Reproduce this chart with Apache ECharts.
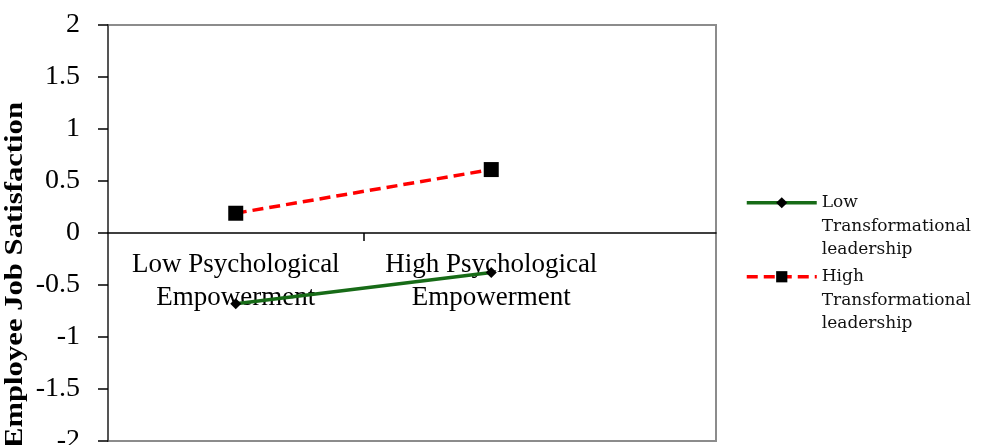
<!DOCTYPE html>
<html>
<head>
<meta charset="utf-8">
<script src="https://cdn.jsdelivr.net/npm/echarts@6/dist/echarts.min.js"></script>
<style>
  html, body { margin: 0; padding: 0; background: #fff; }
  #chart { width: 992px; height: 445px; }
</style>
</head>
<body>
<div id="chart"></div>
<script>
  // 数据
  var categories = ['Low Psychological\nEmpowerment', 'High Psychological\nEmpowerment']
  var lowTL = [-0.68, -0.38]
  var highTL = [0.19, 0.61]
  var seriesNames = ['Low\nTransformational\nleadership', 'High\nTransformational\nleadership']
  var yTitle = 'Employee Job Satisfaction'

  var serif = "'Liberation Serif', 'Times New Roman', serif"

  var myChart = echarts.init(document.getElementById('chart'))
  myChart.setOption({
    animation: false,
    textStyle: { fontFamily: serif, color: '#000' },
    // 0: 外框  1: 数据区  2: 类目标签（零线以上）
    grid: [
      { left: 108, top: 25, width: 608, height: 416, show: true, borderColor: '#8c8c8c', borderWidth: 2, containLabel: false, outerBoundsMode: 'none' },
      { left: 108, top: 25, width: 511, height: 416, containLabel: false, outerBoundsMode: 'none' },
      { left: 108, top: 25, width: 511, height: 207.5, containLabel: false, outerBoundsMode: 'none' }
    ],
    legend: {
      orient: 'vertical',
      left: 740,
      top: 139,
      itemWidth: 70,
      itemHeight: 14,
      itemGap: -43.5,
      data: seriesNames,
      lineStyle: { width: 3.5 },
      // 图例图标对齐第一行文字
      formatter: function (name) { return '\n\n' + name },
      textStyle: {
        fontFamily: "'DejaVu Serif', serif",
        fontSize: 17,
        lineHeight: 23.5,
        color: '#111'
      }
    },
    xAxis: [
      {
        type: 'value', gridIndex: 0, min: 0, max: 1,
        axisLine: { onZero: true, lineStyle: { color: '#000', width: 1.5 } },
        axisTick: { show: false }, axisLabel: { show: false }, splitLine: { show: false }
      },
      {
        type: 'category', gridIndex: 1, data: categories, boundaryGap: true, position: 'top', show: false,
        axisLine: { onZero: false }
      },
      {
        type: 'category', gridIndex: 2, data: categories, boundaryGap: true, position: 'bottom',
        axisLine: { show: false, onZero: false },
        axisTick: { show: false },
        axisLabel: { interval: 0, fontFamily: serif, fontSize: 27, lineHeight: 33, color: '#000', margin: 16 }
      },
      {
        // 两个类目之间的刻度
        type: 'value', gridIndex: 1, min: 0, max: 2, position: 'bottom',
        axisLine: { show: false, onZero: true },
        axisTick: { show: true, customValues: [1], length: 8, lineStyle: { color: '#000', width: 1.5 } },
        axisLabel: { show: false }, splitLine: { show: false }
      }
    ],
    yAxis: [
      {
        type: 'value', gridIndex: 0, min: -2, max: 2, interval: 0.5,
        axisLine: { show: true, lineStyle: { color: '#555', width: 2 } },
        axisTick: { show: true, length: 10, lineStyle: { color: '#000', width: 1.5 } },
        axisLabel: { fontFamily: serif, fontSize: 28, color: '#000', margin: 28 },
        splitLine: { show: false }
      },
      {
        type: 'value', gridIndex: 1, min: -2, max: 2, interval: 0.5, show: false
      },
      {
        type: 'value', gridIndex: 2, min: 0, max: 1, show: false
      }
    ],
    graphic: [
      {
        type: 'text',
        left: 2,
        top: 102,
        rotation: Math.PI / 2,
        scaleX: 1.18,
        style: {
          text: yTitle,
          font: "bold 26px 'Liberation Serif', serif",
          fill: '#000'
        },
        z: 100
      }
    ],
    series: [
      {
        name: seriesNames[0],
        type: 'line',
        xAxisIndex: 1, yAxisIndex: 1,
        data: lowTL,
        symbol: 'diamond',
        symbolSize: 11,
        itemStyle: { color: '#000' },
        lineStyle: { color: '#176b17', width: 3.5 },
        z: 3
      },
      {
        name: seriesNames[1],
        type: 'line',
        xAxisIndex: 1, yAxisIndex: 1,
        data: highTL,
        symbol: 'rect',
        symbolSize: 15,
        itemStyle: { color: '#000' },
        lineStyle: { color: '#ff0000', width: 3.5, type: [11, 6] },
        z: 3
      }
    ]
  })
</script>
</body>
</html>
